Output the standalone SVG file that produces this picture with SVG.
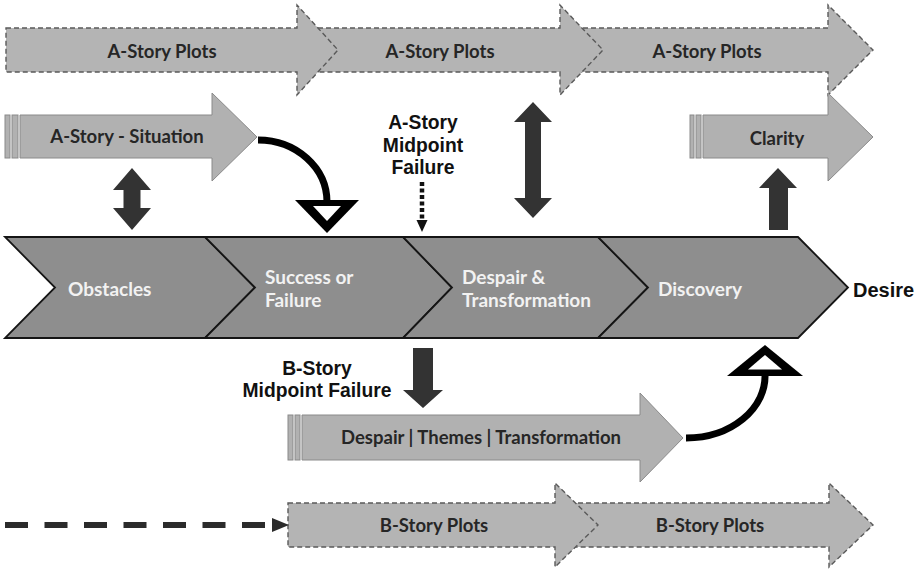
<svg xmlns="http://www.w3.org/2000/svg" width="918" height="570" viewBox="0 0 918 570">
  <style>
    .plot { fill: #b4b4b4; stroke: #5a5a5a; stroke-width: 1.4; stroke-dasharray: 5 3; }
    .solid { fill: #b1b1b1; stroke: #8a8a8a; stroke-width: 1; }
    .stripe { fill: #b1b1b1; stroke: #8a8a8a; stroke-width: 1; }
    .chev { fill: #8e8e8e; stroke: #151515; stroke-width: 1.8; stroke-linejoin: miter; }
    .dark { fill: #333333; }
    .lbl { font-family: Lato, "Open Sans", sans-serif; font-weight: bold; font-size: 18.5px; fill: #262626; text-anchor: middle; }
    .clbl { font-family: Lato, "Open Sans", sans-serif; font-weight: bold; font-size: 19px; fill: #f2f2f2; }
    .note { font-family: "Liberation Sans", Arial, sans-serif; font-weight: bold; font-size: 19.3px; fill: #111111; text-anchor: middle; }
    .curve { fill: none; stroke: #000000; stroke-width: 7; }
  </style>

  <!-- A-Story plot arrows (drawn right to left so each head overlaps the next body) -->
  <g id="a-plot-3">
    <path class="plot" d="M575,28 L828,28 L828,5 L873,50 L828,95 L828,72 L575,72 Z"/>
    <text class="lbl" x="707" y="58">A-Story Plots</text>
  </g>
  <g id="a-plot-2">
    <path class="plot" d="M310,28 L560,28 L560,5 L603,50 L560,95 L560,72 L310,72 Z"/>
    <text class="lbl" x="440" y="58">A-Story Plots</text>
  </g>
  <g id="a-plot-1">
    <path class="plot" d="M6,28 L297,28 L297,5 L338,50 L297,95 L297,72 L6,72 Z"/>
    <text class="lbl" x="162" y="58">A-Story Plots</text>
  </g>

  <!-- A-Story situation -->
  <g id="a-situation">
    <rect class="stripe" x="5" y="115" width="5" height="43"/>
    <rect class="stripe" x="12" y="115" width="6" height="43"/>
    <path class="solid" d="M20,115 L212,115 L212,93 L257,137 L212,181 L212,158 L20,158 Z"/>
    <text class="lbl" x="127" y="143">A-Story - Situation</text>
  </g>

  <!-- Clarity -->
  <g id="clarity">
    <rect class="stripe" x="690" y="115" width="4" height="43"/>
    <rect class="stripe" x="696" y="115" width="5" height="43"/>
    <path class="solid" d="M703,115 L828,115 L828,93 L873,137 L828,181 L828,158 L703,158 Z"/>
    <text class="lbl" x="777" y="145">Clarity</text>
  </g>

  <!-- A-Story midpoint label -->
  <g id="a-midpoint">
    <text class="note" x="423" y="129">A-Story</text>
    <text class="note" x="423" y="152">Midpoint</text>
    <text class="note" x="423" y="174">Failure</text>
  </g>

  <!-- Main chevron process -->
  <g id="obstacles">
    <path class="chev" d="M5,237 L205,237 L255,287.5 L205,338 L5,338 L55,287.5 Z"/>
    <text class="clbl" x="68" y="296">Obstacles</text>
  </g>
  <g id="success-or-failure">
    <path class="chev" d="M205,237 L403,237 L452,287.5 L403,338 L205,338 L255,287.5 Z"/>
    <text class="clbl" x="265" y="284">Success or</text>
    <text class="clbl" x="265" y="307">Failure</text>
  </g>
  <g id="despair-transformation">
    <path class="chev" d="M403,237 L598,237 L648,287.5 L598,338 L403,338 L452,287.5 Z"/>
    <text class="clbl" x="462" y="284">Despair &amp;</text>
    <text class="clbl" x="462" y="307">Transformation</text>
  </g>
  <g id="discovery">
    <path class="chev" d="M598,237 L798,237 L848,287.5 L798,338 L598,338 L648,287.5 Z"/>
    <text class="clbl" x="658" y="296">Discovery</text>
  </g>
  <g id="desire">
    <text class="note" x="853" y="297" style="text-anchor:start; font-size:20px">Desire</text>
  </g>

  <!-- B-Story midpoint label -->
  <g id="b-midpoint">
    <text class="note" x="317" y="375">B-Story</text>
    <text class="note" x="317" y="397">Midpoint Failure</text>
  </g>

  <!-- B-Story situation -->
  <g id="b-situation">
    <rect class="stripe" x="288" y="415" width="5" height="45"/>
    <rect class="stripe" x="295" y="415" width="5" height="45"/>
    <path class="solid" d="M302,415 L640,415 L640,393 L683,438 L640,482 L640,460 L302,460 Z"/>
    <text class="lbl" x="481" y="444">Despair | Themes | Transformation</text>
  </g>

  <!-- B-Story plot arrows -->
  <g id="b-plot-2">
    <path class="plot" d="M570,503 L829,503 L829,483 L873,525 L829,567 L829,547 L570,547 Z"/>
    <text class="lbl" x="710" y="532">B-Story Plots</text>
  </g>
  <g id="b-plot-1">
    <path class="plot" d="M288,503 L555,503 L555,483 L598,525 L555,567 L555,547 L288,547 Z"/>
    <text class="lbl" x="434" y="532">B-Story Plots</text>
  </g>

  <!-- Connectors -->
  <g id="connectors">
    <!-- situation to obstacles (two-way) -->
    <path class="dark" d="M132,168 L151,190 L140.5,190 L140.5,208 L151,208 L132,230 L113,208 L123.5,208 L123.5,190 L113,190 Z"/>
    <!-- plots to despair (two-way) -->
    <path class="dark" d="M533,102 L552,122 L541,122 L541,198 L552,198 L533,218 L514,198 L525,198 L525,122 L514,122 Z"/>
    <!-- discovery up to clarity -->
    <path class="dark" d="M778,168 L797,188 L788,188 L788,230 L769,230 L769,188 L759,188 Z"/>
    <!-- B-story midpoint down -->
    <path class="dark" d="M413,348 L433,348 L433,390 L443,390 L423,408 L403,390 L413,390 Z"/>

    <!-- situation curving down into success/failure -->
    <path class="curve" d="M258,140 A 69 62 0 0 1 327 202"/>
    <polygon points="295,200 359,200 327,233" fill="#000000"/>
    <polygon points="313,206 341,206 327,221" fill="#ffffff"/>

    <!-- despair curving up into discovery -->
    <path class="curve" d="M686,438 A 79 62 0 0 0 765 374"/>
    <polygon points="727,376 803,376 765,345" fill="#000000"/>
    <polygon points="748,369.5 782,369.5 765,355" fill="#ffffff"/>

    <!-- A-story midpoint dotted pointer -->
    <line x1="422" y1="182" x2="422" y2="220" stroke="#111111" stroke-width="4.5" stroke-dasharray="4 2.5"/>
    <polygon points="416.5,220 427.5,220 422,232" fill="#111111"/>

    <!-- dashed lead-in to B-story plots -->
    <line x1="5" y1="525" x2="265" y2="525" stroke="#2b2b2b" stroke-width="6" stroke-dasharray="23 16.5"/>
    <polygon points="272,518 272,532 289,525" fill="#2b2b2b"/>
  </g>
</svg>
